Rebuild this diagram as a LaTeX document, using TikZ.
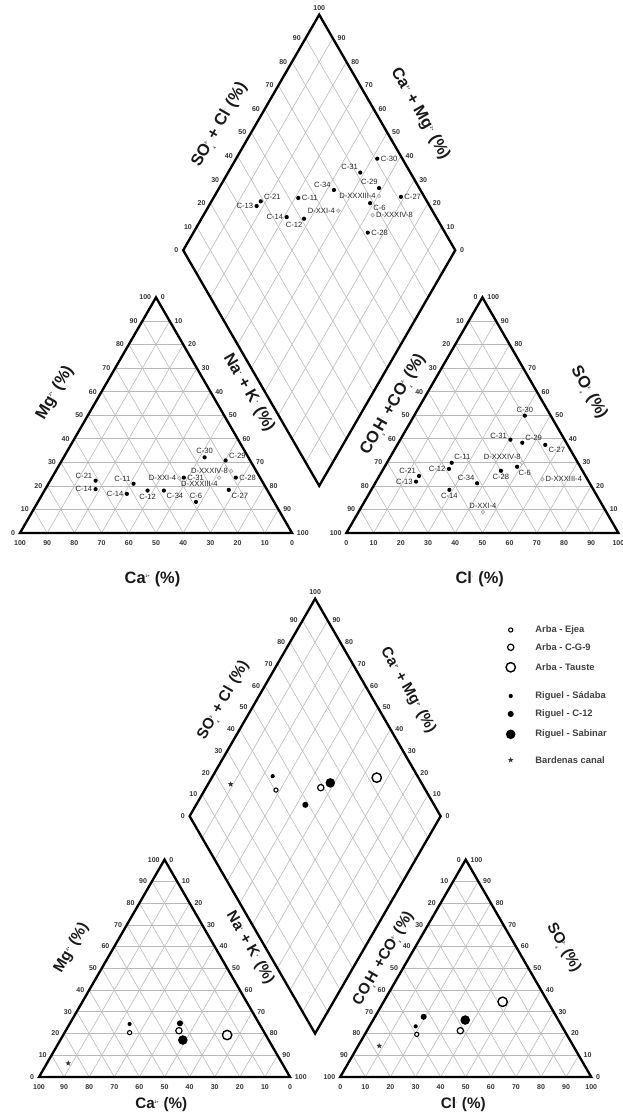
\documentclass[tikz,border=0pt]{standalone}
\usepackage{fontspec}
\setmainfont{Liberation Sans}
\usetikzlibrary{shapes}
\newcommand{\ionlbl}[2]{$_{\hbox{\fontsize{3}{3}\selectfont #1}}^{\hbox{\fontsize{3}{3}\selectfont #2}}$}

\begin{document}
\begin{tikzpicture}[x=0.03cm, y=0.03cm]
	\tikzstyle{outline} = [line width=2pt, black]
	\tikzstyle{gridline} = [line width=0.5pt, gray!55]
	\tikzstyle{ticklbl} = [font=\fontsize{6}{6}\selectfont\bfseries, text=black!80, inner sep=1pt]
	\tikzstyle{lbl} = [font=\fontsize{6.5}{6.5}\selectfont, text=black!85, inner sep=0.8pt]
	\tikzstyle{bdot} = [circle, fill=black, inner sep=0pt, minimum size=3.6pt]
	\tikzstyle{gdot} = [circle, draw=gray!70, fill=gray!20, line width=0.5pt, inner sep=0pt, minimum size=3.2pt]
	\tikzstyle{sopen} = [circle, draw=black, fill=white, line width=0.9pt, inner sep=0pt, minimum size=3.6pt]
	\tikzstyle{mopen} = [circle, draw=black, fill=white, line width=1pt, inner sep=0pt, minimum size=5.4pt]
	\tikzstyle{lopen} = [circle, draw=black, fill=white, line width=1.2pt, inner sep=0pt, minimum size=8pt]
	\tikzstyle{sdot} = [circle, fill=black, inner sep=0pt, minimum size=3.6pt]
	\tikzstyle{mdot} = [circle, fill=black, inner sep=0pt, minimum size=5.2pt]
	\tikzstyle{ldot} = [circle, fill=black, inner sep=0pt, minimum size=8.2pt]
	\tikzstyle{canal} = [star, star points=5, star point ratio=2.4, fill=black!80, inner sep=0pt, minimum size=5pt]
	\tikzstyle{legtxt} = [font=\fontsize{8}{8}\selectfont\bfseries, text=black!75, inner sep=1pt, anchor=west]
	\useasboundingbox (0,0) rectangle (623,1117);

	% both Piper frames: grid, outlines, ticks and titles
	\foreach \p/\sx/\sy/\sc/\ty/\tf in {t/0.6/17.52/0.816/-1.73/14, b/1.17/1.2/0.753/-1.12/13} {
	\begin{scope}[shift={(\sx cm,\sy cm)}, x=\sc cm, y=\sc cm]
		\tikzstyle{axtitle} = [font=\fontsize{\tf}{\tf}\selectfont\bfseries, text=black!90, inner sep=0pt]
		\foreach \ox in {0,12}
			\foreach \i in {1,...,9} {
				\draw[gridline] ({\ox+0.5*\i},{0.866*\i}) -- ({\ox+10-0.5*\i},{0.866*\i});
				\draw[gridline] ({\ox+\i},0) -- ({\ox+5+0.5*\i},{8.66-0.866*\i});
				\draw[gridline] ({\ox+\i},0) -- ({\ox+0.5*\i},{0.866*\i});
			}
		\foreach \i in {1,...,9} {
			\draw[gridline] ({11+0.5*\i},{1.732+0.866*\i}) -- ({6+0.5*\i},{10.392+0.866*\i});
			\draw[gridline] ({11-0.5*\i},{1.732+0.866*\i}) -- ({16-0.5*\i},{10.392+0.866*\i});
		}
		\coordinate (\p-ca) at (0,0);
		\coordinate (\p-na) at (10,0);
		\coordinate (\p-mg) at (5,8.66);
		\coordinate (\p-hc) at (12,0);
		\coordinate (\p-cl) at (22,0);
		\coordinate (\p-so) at (17,8.66);
		\coordinate (\p-d0) at (11,1.732);
		\coordinate (\p-d1) at (16,10.392);
		\coordinate (\p-d2) at (11,19.053);
		\coordinate (\p-d3) at (6,10.392);
		\draw[outline] (\p-ca) -- (\p-na) -- (\p-mg) -- cycle;
		\draw[outline] (\p-hc) -- (\p-cl) -- (\p-so) -- cycle;
		\draw[outline] (\p-d0) -- (\p-d1) -- (\p-d2) -- (\p-d3) -- cycle;
		\foreach \i in {0,...,10} {
			\pgfmathtruncatemacro\up{10*\i}
			\pgfmathtruncatemacro\dn{100-10*\i}
			\node[ticklbl, below=5pt] (\p-cb\i) at (\i,0) {\dn};
			\node[ticklbl, left=3pt] (\p-cl\i) at ({0.5*\i},{0.866*\i}) {\up};
			\node[ticklbl, right=3pt] (\p-cr\i) at ({10-0.5*\i},{0.866*\i}) {\dn};
			\node[ticklbl, below=5pt] (\p-ab\i) at ({12+\i},0) {\up};
			\node[ticklbl, left=3pt] (\p-al\i) at ({12+0.5*\i},{0.866*\i}) {\dn};
			\node[ticklbl, right=3pt] (\p-ar\i) at ({22-0.5*\i},{0.866*\i}) {\up};
		}
		\foreach \i in {0,...,9} {
			\pgfmathtruncatemacro\up{10*\i}
			\node[ticklbl, left=3pt] (\p-dl\i) at ({6+0.5*\i},{10.392+0.866*\i}) {\up};
			\node[ticklbl, right=3pt] (\p-dr\i) at ({16-0.5*\i},{10.392+0.866*\i}) {\up};
		}
		\node[ticklbl, above=2pt] (\p-dtop) at (\p-d2) {100};
		% axis titles
		\node[axtitle, rotate=60] (\p-t1) at (7.35,15.0) {SO\ionlbl{4}{2-} + Cl\ionlbl{}{-} (\%)};
		\node[axtitle, rotate=-60] (\p-t2) at (14.7,15.4) {Ca\ionlbl{}{2+} + Mg\ionlbl{}{2+} (\%)};
		\node[axtitle, rotate=60] (\p-t3) at (1.3,5.15) {Mg\ionlbl{}{2+} (\%)};
		\node[axtitle, rotate=-60] (\p-t4) at (8.4,5.15) {Na\ionlbl{}{+} + K\ionlbl{}{+} (\%)};
		\node[axtitle] (\p-t5) at (4.87,\ty) {Ca\ionlbl{}{2+} (\%)};
		\node[axtitle, rotate=60] (\p-t6) at (13.73,4.72) {CO\ionlbl{3}{}H\ionlbl{}{-} +CO\ionlbl{3}{2-} (\%)};
		\node[axtitle, rotate=-60] (\p-t7) at (20.9,5.15) {SO\ionlbl{4}{2-} (\%)};
		\node[axtitle] (\p-t8) at (16.9,\ty) {Cl\ionlbl{}{-} (\%)};
	\end{scope}
	}

	% upper diagram: samples
	\begin{scope}[shift={(0.6cm,17.52cm)}, x=0.816cm, y=0.816cm]
		\foreach \ca/\mg/\lb/\ang/\st [count=\k] in {61.1/22.2/C-21/160/bdot, 62.9/18.6/C-14/180/bdot,
			47.8/20.9/C-11/150/bdot, 52.4/16.6/C-14/180/bdot, 44.1/18.0/C-12/-90/bdot,
			38.1/18.0/C-34/-45/bdot, 29.8/23.2/D-XXI-4/180/gdot, 28.0/23.5/C-31/0/bdot,
			16.1/32.1/C-30/90/bdot, 9.0/30.8/C-29/15/bdot, 9.2/26.3/D-XXXIV-8/180/gdot,
			15.1/23.5/D-XXXIII-4/-95/gdot, 8.9/23.5/C-28/0/bdot, 14.1/18.3/C-27/-45/bdot,
			28.7/13.2/C-6/90/bdot}
			\node[\st, label={[lbl]\ang:\lb}] (tc\k) at ({10-0.1*\ca-0.05*\mg},{0.0866*\mg}) {};
		\foreach \cl/\so/\lb/\ang/\st [count=\k] in {40.7/49.8/C-30/90/bdot, 40.5/39.6/C-31/170/bdot,
			45.5/38.3/C-29/40/bdot, 54.4/37.4/C-27/-20/bdot, 49.7/29.8/D-XXXIV-8/100/gdot,
			48.7/28.1/C-6/-80/bdot, 43.6/26.4/C-28/-90/bdot, 60.6/22.8/D-XXXIII-4/0/gdot,
			23.8/29.8/C-11/50/bdot, 24.1/27.2/C-12/180/bdot, 14.6/24.2/C-21/150/bdot,
			14.7/21.8/C-13/180/bdot, 37.5/21.1/C-34/135/bdot, 28.7/18.3/C-14/-90/bdot,
			45.7/8.9/D-XXI-4/90/gdot}
			\node[\st, label={[lbl]\ang:\lb}] (ta\k) at ({12+0.1*\cl+0.05*\so},{0.0866*\so}) {};
		\foreach \s/\c/\lb/\ang/\st [count=\k] in {.364/.824/C-13/180/bdot, .389/.819/C-21/20/bdot,
			.534/.688/C-11/0/bdot, .451/.690/C-14/180/bdot, .511/.623/C-12/-100/bdot,
			.654/.514/D-XXI-4/180/gdot, .682/.574/C-34/150/bdot, .835/.395/D-XXXIII-4/180/gdot,
			.816/.514/C-31/120/bdot, .908/.481/C-30/0/bdot, .852/.412/C-29/95/bdot,
			.914/.313/C-27/0/bdot, .787/.413/C-6/-30/bdot, .771/.378/D-XXXIV-8/0/gdot,
			.716/.359/C-28/0/bdot}
			\node[\st, label={[lbl]\ang:\lb}] (td\k) at ({11+5*(\s-\c)},{1.732+8.66*(\s+\c)}) {};
	\end{scope}

	% lower diagram: sample groups
	\begin{scope}[shift={(1.17cm,1.2cm)}, x=0.753cm, y=0.753cm]
		\foreach \ca/\mg/\st [count=\k] in {85.2/6.3/canal, 53.7/20.4/sopen, 33.6/21.3/mopen,
			15.4/19.3/lopen, 51.7/24.4/sdot, 31.5/24.7/mdot, 34.2/17.0/ldot}
			\node[\st] (bc\k) at ({10-0.1*\ca-0.05*\mg},{0.0866*\mg}) {};
		\foreach \cl/\so/\st [count=\k] in {8.4/14.3/canal, 20.7/19.6/sopen, 37.2/21.3/mopen,
			47.4/34.6/lopen, 18.4/23.3/sdot, 19.4/27.7/mdot, 36.7/26.2/ldot}
			\node[\st] (ba\k) at ({12+0.1*\cl+0.05*\so},{0.0866*\so}) {};
		\foreach \s/\c/\st [count=\k] in {.237/.910/canal, .404/.716/sopen, .588/.543/mopen,
			.834/.343/lopen, .423/.761/sdot, .487/.565/mdot, .637/.516/ldot}
			\node[\st] (bd\k) at ({11+5*(\s-\c)},{1.732+8.66*(\s+\c)}) {};
	\end{scope}

	% legend
	\foreach \y/\st/\lb [count=\k] in {487/sopen/Arba - Ejea, 469.7/mopen/Arba - C-G-9,
		449.7/lopen/Arba - Tauste, 421/sdot/Riguel - Sádaba, 403/mdot/Riguel - C-12,
		382.7/ldot/Riguel - Sabinar, 357/canal/Bardenas canal} {
		\node[\st] (key\k) at (510.7,\y) {};
		\node[legtxt] (txt\k) at (534,\y) {\lb};
	}
\end{tikzpicture}
\end{document}
